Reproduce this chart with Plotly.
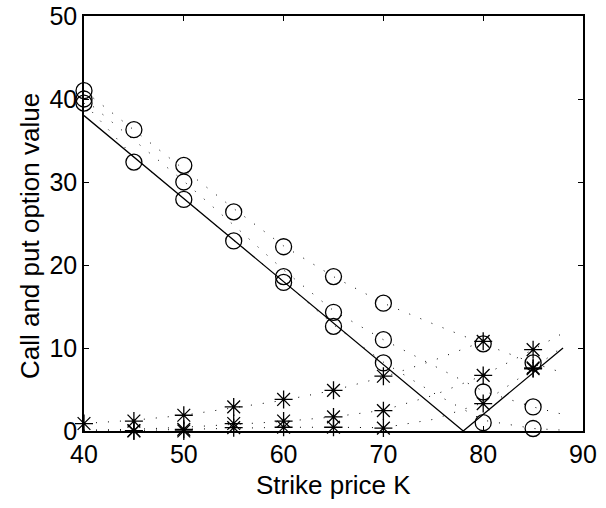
import plotly.graph_objects as go

# Dotted fitted curves (strike grid and values)
K_curve = [40, 45, 50, 55, 60, 65, 70, 75, 80, 85, 88]
call_long_curve = [41.0, 36.3, 31.6, 26.8, 22.3, 18.6, 15.4, 12.9, 10.5, 8.2, 7.0]
call_mid_curve = [40.0, 35.1, 30.1, 24.8, 19.4, 14.5, 11.0, 7.9, 4.8, 2.9, 2.0]
call_short_curve = [39.5, 33.0, 28.0, 23.0, 18.0, 12.8, 8.3, 4.6, 1.3, 0.3, 0.1]
put_long_curve = [0.9, 1.3, 1.9, 2.8, 3.7, 4.9, 6.5, 8.5, 10.8, None, None]
put_mid_curve = [0.1, 0.2, 0.45, 0.8, 1.15, 1.7, 2.5, 4.3, 6.7, 9.8, 11.8]
put_short_curve = [0.0, 0.05, 0.2, 0.35, 0.45, 0.45, 0.4, 1.4, 3.4, 7.5, 10.2]

# Intrinsic value (solid line)
K_intr = [40, 78, 88]
intrinsic = [38, 0, 10]

# Observed option values (markers)
K_obs = [40, 45, 50, 55, 60, 65, 70, 80, 85]
call_long_obs = [41.0, 36.3, 32.0, 26.4, 22.2, 18.6, 15.4, 10.5, 8.2]
call_mid_obs = [40.0, None, 30.0, None, 18.6, 14.3, 11.0, 4.7, 2.9]
call_short_obs = [39.5, 32.4, 27.9, 22.9, 17.9, 12.6, 8.2, 1.0, 0.3]
put_long_obs = [0.9, 1.2, 1.9, 2.9, 3.8, 4.9, 6.6, 10.8, 9.8]
put_mid_obs = [None, 0.05, 0.2, 0.9, 1.2, 1.7, 2.45, 6.7, 7.6]
put_short_obs = [None, 0.0, 0.0, 0.4, 0.45, 0.45, 0.35, 3.3, 7.5]

x_ticks = [40, 50, 60, 70, 80, 90]
y_ticks = [0, 10, 20, 30, 40, 50]
x_title = "Strike price K"
y_title = "Call and put option value"

fig = go.Figure()

for ys in [call_long_curve, call_mid_curve, call_short_curve,
           put_long_curve, put_mid_curve, put_short_curve]:
    fig.add_trace(go.Scatter(x=K_curve, y=ys, mode="lines",
                             line=dict(color="black", width=1, dash="1px,11px"),
                             connectgaps=False, hoverinfo="skip"))

fig.add_trace(go.Scatter(x=K_intr, y=intrinsic, mode="lines",
                         line=dict(color="black", width=1.3)))

for ys in [call_long_obs, call_mid_obs, call_short_obs]:
    fig.add_trace(go.Scatter(x=K_obs, y=ys, mode="markers", cliponaxis=False,
                             marker=dict(symbol="circle-open", size=16, color="black",
                                         line=dict(color="black", width=1.3))))

for ys in [put_long_obs, put_mid_obs, put_short_obs]:
    fig.add_trace(go.Scatter(x=K_obs, y=ys, mode="markers", cliponaxis=False,
                             marker=dict(symbol="asterisk-open", size=15, color="black",
                                         line=dict(color="black", width=1.3))))

axis_common = dict(showgrid=False, zeroline=False, showline=True, mirror="ticks",
                   linecolor="black", linewidth=1.5, ticks="inside", ticklen=5,
                   tickwidth=1, tickcolor="black", automargin=False,
                   tickfont=dict(size=25, color="black"))

fig.update_layout(
    width=606, height=508,
    margin=dict(l=84, r=23, t=16, b=77),
    paper_bgcolor="white", plot_bgcolor="white",
    showlegend=False,
    font=dict(family="Liberation Sans, Arial, sans-serif", color="black"),
    xaxis=dict(range=[40, 90], tickvals=x_ticks, **axis_common),
    yaxis=dict(range=[0, 50], tickvals=y_ticks, **axis_common),
    annotations=[
        dict(text=x_title, xref="paper", yref="paper", x=0.5, y=-0.13,
             xanchor="center", yanchor="middle", showarrow=False,
             font=dict(size=26, color="black")),
        dict(text=y_title, xref="paper", yref="paper", x=-0.108, y=0.47,
             xanchor="center", yanchor="middle", showarrow=False, textangle=-90,
             font=dict(size=26, color="black")),
    ],
)

fig.write_html("out.html", config={"displayModeBar": False},
               post_script="document.body.style.margin='0px';")
